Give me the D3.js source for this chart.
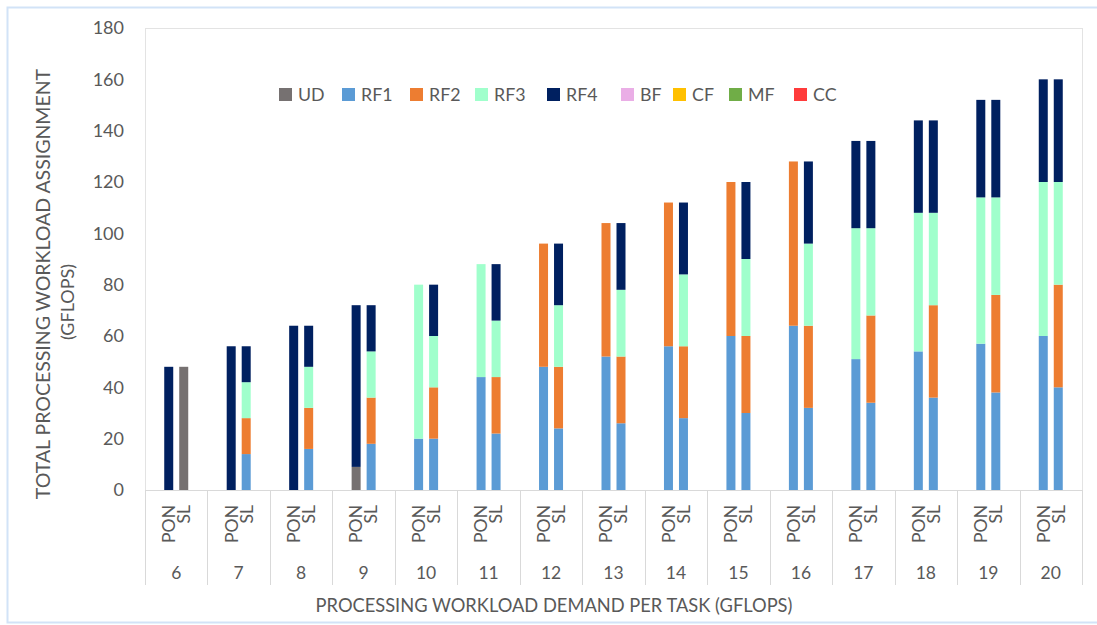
<!DOCTYPE html>
<html>
<head>
<meta charset="utf-8">
<script src="https://cdn.jsdelivr.net/npm/d3@7"></script>
<style>
    body { margin: 0; background: #ffffff; }
    text { font-family: Lato, "Open Sans", sans-serif; fill: #595959; }
</style>
</head>
<body>
<script>
(function(){

    //chart data
    var categories = ["6", "7", "8", "9", "10", "11", "12", "13", "14", "15", "16", "17", "18", "19", "20"];
    var schemes = ["PON", "SL"];
    var seriesNames = ["UD", "RF1", "RF2", "RF3", "RF4", "BF", "CF", "MF", "CC"];
    var seriesColors = ["#767171", "#5b9bd5", "#ed7d31", "#a0ffcc", "#002060", "#eaaee6", "#ffc000", "#70ad47", "#ff3b3b"];

    //PON workload per series (one value per category)
    var ponUD  = [0, 0, 0, 9, 0, 0, 0, 0, 0, 0, 0, 0, 0, 0, 0];
    var ponRF1 = [0, 0, 0, 0, 20, 44, 48, 52, 56, 60, 64, 51, 54, 57, 60];
    var ponRF2 = [0, 0, 0, 0, 0, 0, 48, 52, 56, 60, 64, 0, 0, 0, 0];
    var ponRF3 = [0, 0, 0, 0, 60, 44, 0, 0, 0, 0, 0, 51, 54, 57, 60];
    var ponRF4 = [48, 56, 64, 63, 0, 0, 0, 0, 0, 0, 0, 34, 36, 38, 40];
    var ponBF  = [0, 0, 0, 0, 0, 0, 0, 0, 0, 0, 0, 0, 0, 0, 0];
    var ponCF  = [0, 0, 0, 0, 0, 0, 0, 0, 0, 0, 0, 0, 0, 0, 0];
    var ponMF  = [0, 0, 0, 0, 0, 0, 0, 0, 0, 0, 0, 0, 0, 0, 0];
    var ponCC  = [0, 0, 0, 0, 0, 0, 0, 0, 0, 0, 0, 0, 0, 0, 0];

    //SL workload per series
    var slUD  = [48, 0, 0, 0, 0, 0, 0, 0, 0, 0, 0, 0, 0, 0, 0];
    var slRF1 = [0, 14, 16, 18, 20, 22, 24, 26, 28, 30, 32, 34, 36, 38, 40];
    var slRF2 = [0, 14, 16, 18, 20, 22, 24, 26, 28, 30, 32, 34, 36, 38, 40];
    var slRF3 = [0, 14, 16, 18, 20, 22, 24, 26, 28, 30, 32, 34, 36, 38, 40];
    var slRF4 = [0, 14, 16, 18, 20, 22, 24, 26, 28, 30, 32, 34, 36, 38, 40];
    var slBF  = [0, 0, 0, 0, 0, 0, 0, 0, 0, 0, 0, 0, 0, 0, 0];
    var slCF  = [0, 0, 0, 0, 0, 0, 0, 0, 0, 0, 0, 0, 0, 0, 0];
    var slMF  = [0, 0, 0, 0, 0, 0, 0, 0, 0, 0, 0, 0, 0, 0, 0];
    var slCC  = [0, 0, 0, 0, 0, 0, 0, 0, 0, 0, 0, 0, 0, 0, 0];

    var yTicks = [0, 20, 40, 60, 80, 100, 120, 140, 160, 180];

    var seriesValues = {
        PON: [ponUD, ponRF1, ponRF2, ponRF3, ponRF4, ponBF, ponCF, ponMF, ponCC],
        SL: [slUD, slRF1, slRF2, slRF3, slRF4, slBF, slCF, slMF, slCC]
    };

    //frame dimensions
    var width = 1097,
        height = 625,
        plotLeft = 145,
        plotRight = 1082,
        plotTop = 28,
        plotBottom = 490;

    var svg = d3.select("body")
        .append("svg")
        .attr("width", width)
        .attr("height", height);

    //outer chart border
    svg.append("rect")
        .attr("x", 7.5)
        .attr("y", 7.5)
        .attr("width", width)
        .attr("height", 615)
        .style("fill", "none")
        .style("stroke", "#d2e3f7")
        .style("stroke-width", 2);

    //scales
    var x = d3.scaleBand()
        .domain(categories)
        .range([plotLeft, plotRight])
        .padding(0);

    var bw = x.bandwidth();
    var xInner = d3.scaleBand()
        .domain(schemes)
        .range([bw / 2 - 12, bw / 2 + 12])
        .paddingInner(0.4)
        .paddingOuter(0);

    var y = d3.scaleLinear()
        .domain([0, 180])
        .range([plotBottom, plotTop]);

    //plot area border
    svg.append("rect")
        .attr("x", plotLeft + 0.5)
        .attr("y", plotTop + 0.5)
        .attr("width", plotRight - plotLeft)
        .attr("height", plotBottom - plotTop)
        .style("fill", "none")
        .style("stroke", "#e3e3e3");

    //y axis labels
    var yAxis = d3.axisLeft(y)
        .tickValues(yTicks)
        .tickSize(0)
        .tickPadding(21);

    var yg = svg.append("g")
        .attr("transform", "translate(" + plotLeft + ",0)")
        .call(yAxis);
    yg.select(".domain").remove();
    yg.selectAll("text")
        .style("font-size", "18px")
        .style("font-family", "Lato, sans-serif")
        .style("fill", "#595959");

    //stacked bars
    var stackData = [];
    categories.forEach(function(cat, ci){
        schemes.forEach(function(s){
            var base = 0;
            seriesNames.forEach(function(name, si){
                var v = seriesValues[s][si][ci];
                if (v > 0){
                    stackData.push({cat: cat, scheme: s, series: si, y0: base, y1: base + v});
                }
                base += v;
            });
        });
    });

    svg.selectAll(".bar")
        .data(stackData)
        .enter()
        .append("rect")
        .attr("class", "bar")
        .attr("x", function(d){ return x(d.cat) + xInner(d.scheme); })
        .attr("width", xInner.bandwidth())
        .attr("y", function(d){ return y(d.y1); })
        .attr("height", function(d){ return y(d.y0) - y(d.y1); })
        .style("fill", function(d){ return seriesColors[d.series]; });

    //x axis baseline and category dividers
    svg.append("line")
        .attr("x1", plotLeft)
        .attr("x2", plotRight)
        .attr("y1", plotBottom + 0.5)
        .attr("y2", plotBottom + 0.5)
        .style("stroke", "#d9d9d9");

    var dividers = categories.map(function(c){ return x(c); }).concat([plotRight]);
    svg.selectAll(".divider")
        .data(dividers)
        .enter()
        .append("line")
        .attr("class", "divider")
        .attr("x1", function(d){ return Math.round(d) + 0.5; })
        .attr("x2", function(d){ return Math.round(d) + 0.5; })
        .attr("y1", plotBottom)
        .attr("y2", 585)
        .style("stroke", "#d9d9d9");

    //PON / SL rotated labels
    categories.forEach(function(cat){
        schemes.forEach(function(s){
            var cx = x(cat) + xInner(s) + xInner.bandwidth() / 2;
            svg.append("text")
                .attr("transform", "translate(" + cx + ",505) rotate(-90)")
                .attr("text-anchor", "end")
                .attr("dy", "0.36em")
                .style("font-size", "17.5px")
                .text(s);
        });
    });

    //category labels
    svg.selectAll(".catLabel")
        .data(categories)
        .enter()
        .append("text")
        .attr("class", "catLabel")
        .attr("x", function(d){ return x(d) + bw / 2; })
        .attr("y", 573)
        .attr("dy", "0.36em")
        .attr("text-anchor", "middle")
        .style("font-size", "17.5px")
        .text(function(d){ return d; });

    //axis titles
    svg.append("text")
        .attr("x", 554)
        .attr("y", 605)
        .attr("dy", "0.36em")
        .attr("text-anchor", "middle")
        .style("font-size", "18.3px")
        .text("PROCESSING WORKLOAD DEMAND PER TASK (GFLOPS)");

    svg.append("text")
        .attr("transform", "translate(43,284) rotate(-90)")
        .attr("dy", "0.36em")
        .attr("text-anchor", "middle")
        .style("font-size", "19.5px")
        .text("TOTAL PROCESSING WORKLOAD ASSIGNMENT");

    svg.append("text")
        .attr("transform", "translate(68,302) rotate(-90)")
        .attr("dy", "0.36em")
        .attr("text-anchor", "middle")
        .style("font-size", "18px")
        .text("(GFLOPS)");

    //legend
    var legendX = [279, 342, 410, 475, 547, 621, 673, 729, 794];
    var legend = svg.selectAll(".legendItem")
        .data(seriesNames)
        .enter()
        .append("g")
        .attr("class", "legendItem")
        .attr("transform", function(d, i){ return "translate(" + legendX[i] + ",88)"; });

    legend.append("rect")
        .attr("width", 13)
        .attr("height", 13)
        .style("fill", function(d, i){ return seriesColors[i]; });

    legend.append("text")
        .attr("x", 19)
        .attr("y", 6.5)
        .attr("dy", "0.36em")
        .style("font-size", "17.8px")
        .text(function(d){ return d; });

})();
</script>
</body>
</html>
